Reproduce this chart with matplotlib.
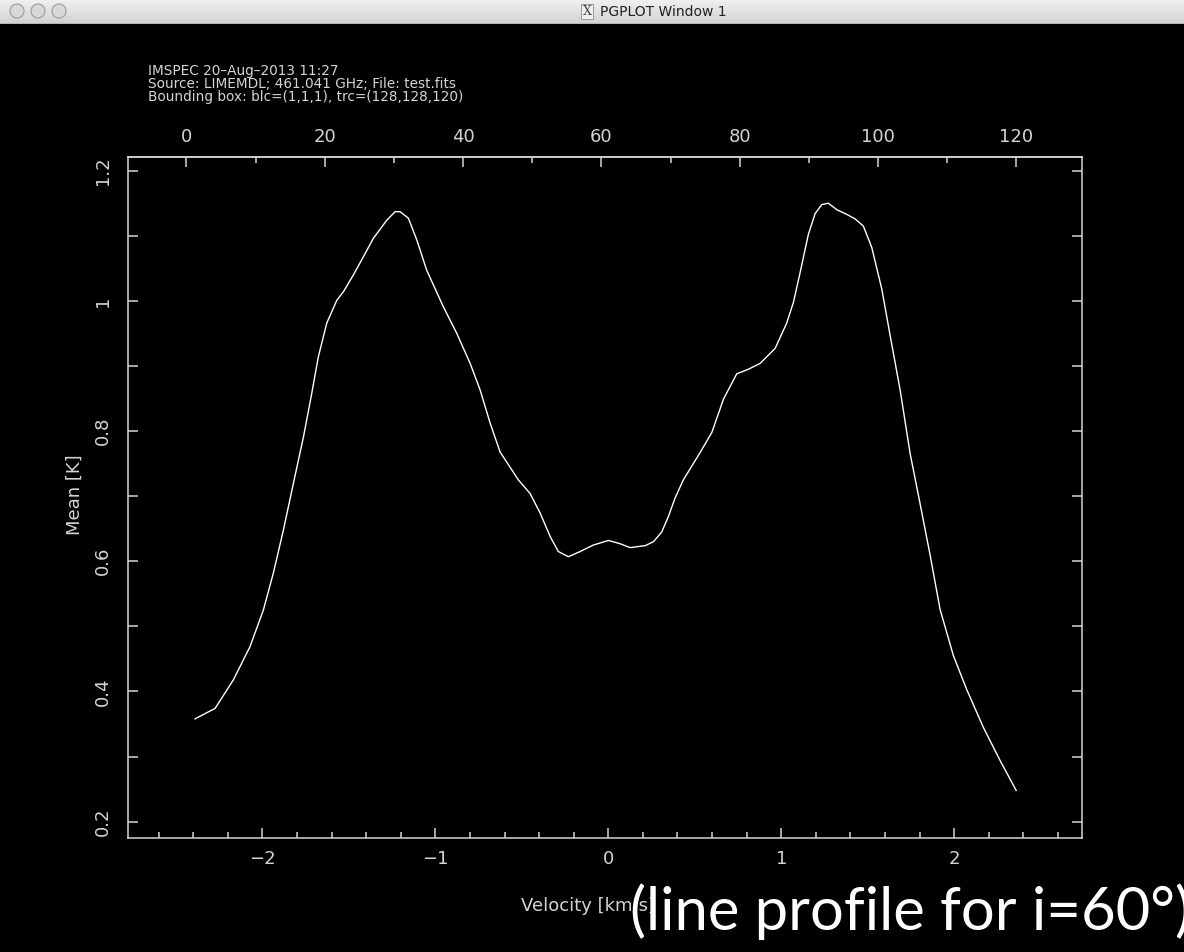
import numpy as np
import matplotlib
matplotlib.use("Agg")
import matplotlib.pyplot as plt
from matplotlib.patches import Circle, Rectangle
from matplotlib.ticker import MultipleLocator, FuncFormatter

# spectrum: velocity (km/s) vs. mean brightness (K)
velocity = [-2.390, -2.274, -2.168, -2.072, -1.995, -1.937, -1.879, -1.821, -1.763,
            -1.715, -1.677, -1.628, -1.570, -1.532, -1.474, -1.416, -1.359, -1.281,
            -1.233, -1.204, -1.156, -1.108, -1.050, -0.954, -0.876, -0.799, -0.741,
            -0.683, -0.626, -0.520, -0.452, -0.394, -0.336, -0.289, -0.231, -0.163,
            -0.086, 0.001, 0.068, 0.126, 0.213, 0.261, 0.309, 0.348, 0.386, 0.434,
            0.531, 0.599, 0.666, 0.743, 0.810, 0.878, 0.965, 1.032, 1.071, 1.109,
            1.157, 1.196, 1.235, 1.273, 1.322, 1.379, 1.427, 1.475, 1.524, 1.582,
            1.630, 1.688, 1.746, 1.794, 1.861, 1.919, 1.996, 2.073, 2.169, 2.266, 2.359]
mean_k = [0.358, 0.374, 0.418, 0.469, 0.525, 0.582, 0.648, 0.720, 0.791,
          0.858, 0.914, 0.966, 1.001, 1.014, 1.040, 1.068, 1.096, 1.124,
          1.137, 1.137, 1.127, 1.094, 1.047, 0.991, 0.950, 0.904, 0.863,
          0.812, 0.768, 0.725, 0.704, 0.674, 0.638, 0.615, 0.607, 0.615,
          0.625, 0.632, 0.627, 0.621, 0.624, 0.630, 0.645, 0.669, 0.697, 0.725,
          0.767, 0.798, 0.849, 0.888, 0.895, 0.904, 0.927, 0.966, 0.998, 1.043,
          1.102, 1.134, 1.148, 1.150, 1.140, 1.133, 1.126, 1.115, 1.082, 1.018,
          0.947, 0.863, 0.765, 0.701, 0.610, 0.526, 0.455, 0.403, 0.345, 0.294, 0.248]

header = ["IMSPEC 20–Aug–2013 11:27",
          "Source: LIMEMDL; 461.041 GHz; File: test.fits",
          "Bounding box: blc=(1,1,1), trc=(128,128,120)"]

vel_ticks = [-2, -1, 0, 1, 2]
mean_ticks = [0.2, 0.4, 0.6, 0.8, 1.0, 1.2]
chan_ticks = [0, 20, 40, 60, 80, 100, 120]

# channel <-> velocity
V0, DV = -2.44, 0.04

def vel2chan(v):
    return (np.asarray(v) - V0) / DV

def chan2vel(c):
    return np.asarray(c) * DV + V0

def pg_fmt(v, pos):
    return f"{v:g}".replace("-", "\u2212")

W, H = 1184, 952
FG = "#d4d4d4"

fig = plt.figure(figsize=(W / 100, H / 100), dpi=100, facecolor="black")

# --- window title bar ---
bar_h = 24
tb = fig.add_axes([0, 1 - bar_h / H, 1, bar_h / H])
grad = np.linspace(0.94, 0.82, 64)[:, None]
tb.imshow(grad, cmap="gray", vmin=0, vmax=1, extent=[0, W, bar_h, 0], aspect="auto")
tb.set_xlim(0, W)
tb.set_ylim(bar_h, 0)
tb.axis("off")
for cx in (17, 38, 59):
    tb.add_patch(Circle((cx, 11), 7, fc="#d8d8d8", ec="#9c9c9c", lw=0.8))
tb.add_patch(Rectangle((581, 4), 12, 15, fc="#f0f0f0", ec="#8a8a8a", lw=0.6))
tb.text(587, 11.5, "X", fontsize=9, ha="center", va="center", color="#444444",
        family="DejaVu Serif")
tb.text(600, 11.5, "PGPLOT Window 1", fontsize=10, ha="left", va="center", color="#222222")
tb.axhline(bar_h - 0.5, color="#444444", lw=1)

# --- plot panel ---
x0, x1, y0, y1 = 128.3, 1081.7, 156.7, 837.7
ax = fig.add_axes([x0 / W, 1 - y1 / H, (x1 - x0) / W, (y1 - y0) / H], facecolor="black")
ax.plot(velocity, mean_k, color="white", lw=1.0)
ax.set_xlim(-2.776, 2.738)
ax.set_ylim(0.1754, 1.2215)

ax.set_xticks(vel_ticks)
ax.set_yticks(mean_ticks)
ax.xaxis.set_minor_locator(MultipleLocator(0.2))
ax.yaxis.set_minor_locator(MultipleLocator(0.1))
ax.xaxis.set_major_formatter(FuncFormatter(pg_fmt))
ax.yaxis.set_major_formatter(FuncFormatter(pg_fmt))
ax.tick_params(which="both", direction="in", colors=FG, width=1.1,
               top=False, right=True, labelsize=13)
ax.tick_params(axis="x", which="major", length=7, pad=9)
ax.tick_params(axis="x", which="minor", length=4)
ax.tick_params(axis="y", which="both", length=7, pad=12)
for lbl in ax.get_yticklabels():
    lbl.set_rotation(90)
    lbl.set_va("center")
for sp in ax.spines.values():
    sp.set_color(FG)
    sp.set_linewidth(1.1)

sec = ax.secondary_xaxis("top", functions=(vel2chan, chan2vel))
sec.set_xticks(chan_ticks)
sec.xaxis.set_minor_locator(MultipleLocator(10))
sec.xaxis.set_major_formatter(FuncFormatter(pg_fmt))
sec.tick_params(which="both", direction="in", colors=FG, width=1.1, labelsize=13, pad=8)
sec.tick_params(which="major", length=7)
sec.tick_params(which="minor", length=4)
sec.spines["top"].set_color(FG)
sec.spines["top"].set_linewidth(1.1)

fig.text(75 / W, 1 - 495 / H, "Mean [K]", rotation=90, ha="center", va="center",
         fontsize=13, color=FG)
fig.text(588 / W, 1 - 906 / H, "Velocity [km/s]", ha="center", va="center",
         fontsize=13, color=FG)

for i, line in enumerate(header):
    fig.text(148 / W, 1 - (71 + i * 13) / H, line, ha="left", va="center",
             fontsize=9.8, color=FG)

fig.text(630 / W, 1 - 930 / H, "(line profile for i=60°)", ha="left", va="baseline",
         fontsize=43, color="white", family="Lato")

fig.savefig("out.png", dpi=100, facecolor="black")
